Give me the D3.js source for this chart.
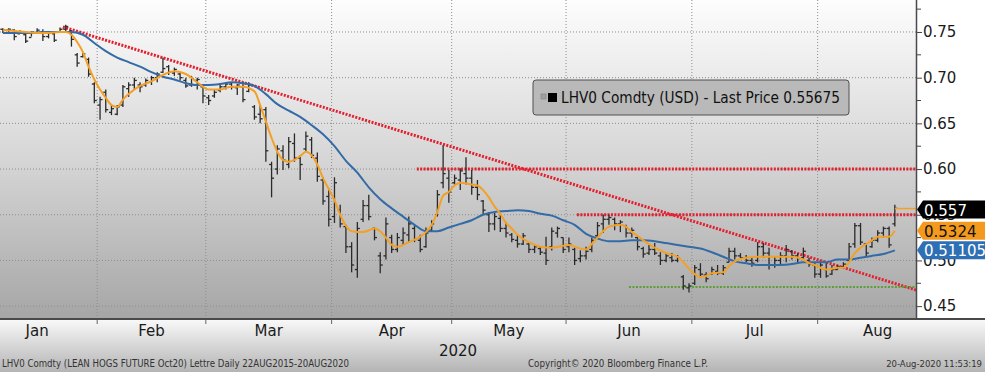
<!DOCTYPE html>
<html>
<head>
<meta charset="utf-8">
<script src="https://cdn.jsdelivr.net/npm/d3@7"></script>
<style>
body { margin: 0; background: #fff; overflow: hidden; }
text { font-family: "DejaVu Sans", sans-serif; }
</style>
</head>
<body>
<div id="chart-area"></div>
<script>
const SVG_WIDTH = 985;
const SVG_HEIGHT = 372;
const PLOT_W = 916;
const PLOT_H = 318;

// months shown on the time axis, with their trading-day counts
const months = ["Jan", "Feb", "Mar", "Apr", "May", "Jun", "Jul", "Aug"];
const monthDays = [21, 19, 22, 21, 20, 22, 22, 21];
const yearLabel = "2020";

// daily bars, first one is the 5th trading day of January
const firstBar = 4;
const hi = [.754,.754,.753,.752,.749,.751,.754,.753,.751,.751,.755,.758,.752,.727,.728,.722,.695,
  .679,.687,.670,.670,.692,.695,.700,.695,.699,.702,.706,.722,.714,.711,.706,.700,.702,.700,.690,
  .681,.687,.693,.695,.695,.693,.695,.695,.670,.670,.668,.608,.626,.626,.635,.639,.615,.641,.635,.618,.591,.579,
  .591,.561,.539,.520,.542,.566,.572,.536,.509,.547,.528,.530,.536,.548,.539,.528,.536,.544,.577,.626,.599,
  .594,.601,.613,.599,.588,.566,.553,.553,.550,.542,.530,.528,.530,.520,.517,.515,.526,.536,.537,.525,
  .525,.514,.511,.515,.525,.542,.550,.550,.547,.544,.539,.536,.526,.515,.517,.519,.509,.508,.508,.506,.484,.475,
  .495,.497,.487,.493,.495,.495,.514,.514,.508,.506,.503,.520,.519,.514,.504,.509,.517,.511,.508,.514,.503,.498,
  .498,.497,.495,.495,.498,.519,.541,.541,.519,.525,.533,.537,.537,.561];
const lo = [.749,.750,.741,.748,.738,.745,.748,.740,.743,.739,.749,.751,.734,.712,.722,.701,.672,
  .654,.662,.659,.659,.668,.679,.687,.684,.690,.692,.695,.705,.703,.702,.697,.689,.690,.687,.672,
  .670,.678,.684,.687,.687,.681,.673,.684,.654,.650,.608,.569,.594,.599,.601,.608,.588,.619,.612,.586,.561,.537,
  .541,.536,.508,.487,.481,.542,.544,.522,.486,.501,.508,.509,.517,.519,.520,.509,.514,.531,.548,.579,.563,
  .583,.577,.583,.572,.566,.550,.531,.533,.531,.525,.520,.514,.517,.508,.508,.506,.495,.511,.525,.508,
  .509,.495,.498,.501,.509,.525,.530,.539,.533,.531,.525,.525,.511,.503,.506,.506,.495,.498,.498,.498,.468,.465,
  .473,.482,.476,.484,.484,.484,.498,.501,.501,.498,.493,.498,.503,.490,.492,.495,.498,.501,.498,.501,.493,.481,
  .481,.481,.484,.490,.492,.501,.514,.517,.504,.514,.520,.525,.514,.537];
const op = [.753,.752,.752,.748,.747,.744,.749,.750,.745,.748,.750,.753,.751,.725,.723,.720,.693,
  .670,.684,.662,.660,.670,.688,.692,.692,.692,.695,.700,.706,.712,.705,.704,.697,.692,.697,.690,
  .678,.680,.686,.690,.693,.689,.690,.685,.668,.660,.665,.605,.600,.620,.605,.628,.612,.622,.632,.612,.588,.570,
  .548,.555,.537,.515,.490,.545,.560,.535,.505,.505,.525,.512,.522,.528,.535,.522,.515,.533,.550,.585,.590,
  .585,.588,.595,.590,.580,.565,.550,.540,.546,.535,.528,.522,.518,.518,.512,.513,.508,.515,.530,.525,
  .515,.512,.502,.505,.512,.527,.540,.545,.545,.540,.538,.530,.525,.513,.508,.512,.505,.500,.503,.500,.482,.470,
  .475,.490,.484,.485,.488,.486,.498,.510,.505,.503,.500,.500,.515,.508,.495,.500,.505,.510,.505,.503,.500,.495,
  .485,.490,.485,.490,.493,.500,.518,.538,.518,.515,.522,.530,.535,.540];
const cl = [.752,.753,.745,.750,.740,.750,.752,.745,.749,.741,.753,.756,.742,.716,.726,.704,.675,
  .676,.665,.666,.668,.690,.692,.697,.690,.697,.700,.704,.710,.706,.709,.700,.691,.699,.698,.680,
  .675,.684,.690,.693,.690,.692,.676,.692,.657,.655,.620,.590,.622,.610,.630,.612,.605,.636,.615,.592,.565,.545,
  .585,.540,.515,.495,.535,.560,.548,.525,.495,.540,.512,.525,.530,.540,.523,.512,.530,.540,.572,.595,.575,
  .590,.598,.590,.580,.572,.555,.540,.548,.535,.530,.523,.518,.527,.512,.515,.509,.500,.532,.535,.512,
  .518,.500,.505,.510,.522,.538,.545,.547,.540,.542,.530,.533,.515,.507,.512,.508,.500,.505,.500,.503,.472,.472,
  .492,.485,.480,.490,.486,.492,.510,.505,.503,.500,.497,.515,.508,.495,.500,.505,.512,.505,.502,.510,.496,.485,
  .495,.483,.490,.493,.496,.515,.538,.520,.508,.522,.530,.535,.517,.557];
const lastPrice = 0.55675;

// moving averages (bar index, value)
const fastIdx = [4,6,8,10,12,14,15,16,17,18,19,20,21,22,23,24,25,26,28,30,32,34,36,38,40,42,44,46,48,49,50,51,52,53,54,55,56,57,58,59,60,61,62,63,64,65,67,69,70,71,72,73,75,77,78,79,80,81,82,83,84,86,87,88,89,90,91,92,93,94,96,98,100,102,103,104,106,107,108,109,110,112,113,114,115,116,117,118,120,122,123,124,125,126,127,128,130,131,132,134,136,138,140,142,144,145,146,147,148,150,151,152,153,154,155,156,157,158,159,160];
const fastVal = [.752,.751,.750,.749,.749,.750,.750,.747,.739,.728,.712,.698,.687,.678,.670,.668,.676,.682,.691,.696,.703,.707,.704,.695,.687,.687,.690,.690,.685,.670,.652,.634,.619,.610,.608,.610,.614,.619,.615,.605,.590,.578,.566,.550,.538,.532,.531,.535,.532,.525,.517,.515,.520,.526,.531,.539,.553,.571,.575,.582,.585,.583,.582,.577,.569,.559,.551,.541,.535,.528,.520,.515,.514,.516,.517,.515,.512,.518,.525,.532,.537,.539,.537,.531,.527,.522,.518,.514,.508,.504,.498,.491,.485,.482,.483,.486,.487,.494,.499,.503,.504,.504,.504,.504,.501,.497,.495,.492,.490,.492,.492,.498,.508,.514,.518,.522,.526,.526,.526,.5324];
const slowIdx = [4,8,12,16,18,20,22,24,26,28,30,32,34,36,38,40,42,44,46,48,50,52,54,56,58,60,62,64,66,68,70,72,74,76,78,80,82,84,86,88,90,92,94,96,98,100,102,104,106,108,110,112,114,116,118,120,122,124,126,128,130,132,134,136,138,140,142,144,146,148,150,152,154,156,158,160];
const slowVal = [.749,.749,.750,.750,.747,.738,.729,.722,.717,.712,.706,.701,.698,.694,.692,.692,.693,.695,.694,.691,.682,.671,.664,.657,.648,.638,.625,.609,.596,.580,.567,.557,.548,.539,.532,.532,.536,.540,.544,.550,.553,.554,.555,.554,.551,.549,.544,.539,.529,.524,.521,.521,.522,.522,.521,.519,.517,.515,.513,.509,.504,.499,.497,.495,.495,.495,.496,.498,.498,.498,.501,.501,.503,.505,.507,.51105];

// drawn studies: downtrend, resistance and support levels
const trendIdx = [14.5, 163.7];
const trendVal = [0.7555, 0.4677];
const resistLevels = [0.60, 0.55];
const resistFrom = [76.4, 104.4];
const supportLevel = 0.471;
const supportFrom = 113.5;

const yTicks = [0.45, 0.50, 0.55, 0.60, 0.65, 0.70, 0.75];
const yMinor = [0.475, 0.525, 0.575, 0.625, 0.675, 0.725, 0.775];

const legendText = "LHV0 Comdty (USD) - Last Price 0.55675";
const footLeft = "LHV0 Comdty (LEAN HOGS FUTURE  Oct20) Lettre  Daily 22AUG2015-20AUG2020";
const footMid = "Copyright\u00A9 2020 Bloomberg Finance L.P.";
const footRight = "20-Aug-2020 11:53:19";

const svg = d3.select("#chart-area").append("svg")
    .attr("width", SVG_WIDTH).attr("height", SVG_HEIGHT);

const defs = svg.append("defs");
const bgGrad = defs.append("linearGradient").attr("id", "bg").attr("x1", 0).attr("y1", 0).attr("x2", 0).attr("y2", 1);
bgGrad.append("stop").attr("offset", "0%").attr("stop-color", "#fdfdfd");
bgGrad.append("stop").attr("offset", "50%").attr("stop-color", "#d6d6d6");
bgGrad.append("stop").attr("offset", "100%").attr("stop-color", "#a6a6a6");
const footGrad = defs.append("linearGradient").attr("id", "foot").attr("x1", 0).attr("y1", 0).attr("x2", 0).attr("y2", 1);
footGrad.append("stop").attr("offset", "0%").attr("stop-color", "#f8f8f8");
footGrad.append("stop").attr("offset", "100%").attr("stop-color", "#b4b4b4");
defs.append("clipPath").attr("id", "plotclip").append("rect")
    .attr("width", PLOT_W).attr("height", PLOT_H);

svg.append("rect").attr("width", PLOT_W).attr("height", PLOT_H).attr("fill", "url(#bg)");
svg.append("rect").attr("y", PLOT_H + 2).attr("width", SVG_WIDTH).attr("height", SVG_HEIGHT - PLOT_H - 2).attr("fill", "url(#foot)");

var x = d3.scaleLinear().domain([0, 163.7]).range([-20.04, PLOT_W]);
var y = d3.scaleLinear().domain([0.437, 0.785]).range([PLOT_H, 0]);

// month starts as bar indices
const monthStart = [];
monthDays.reduce((acc, d) => { monthStart.push(acc); return acc + d; }, 0);

const plot = svg.append("g").attr("clip-path", "url(#plotclip)");

// grid
plot.selectAll(".hgrid").data(yTicks).enter().append("line")
    .attr("x1", 0).attr("x2", PLOT_W)
    .attr("y1", d => y(d)).attr("y2", d => y(d))
    .attr("stroke", "#8d8d8d").attr("stroke-width", 1).attr("stroke-dasharray", "1,2");
plot.selectAll(".vgrid").data(monthStart.slice(1)).enter().append("line")
    .attr("x1", d => x(d - 0.5)).attr("x2", d => x(d - 0.5))
    .attr("y1", 0).attr("y2", PLOT_H)
    .attr("stroke", "#8d8d8d").attr("stroke-width", 1).attr("stroke-dasharray", "1,2");

// drawn lines
const dotted = { stroke: "#e3202f", width: 3, dash: "2,1.4" };
plot.append("line")
    .attr("x1", x(trendIdx[0])).attr("y1", y(trendVal[0]))
    .attr("x2", x(trendIdx[1])).attr("y2", y(trendVal[1]))
    .attr("stroke", dotted.stroke).attr("stroke-width", dotted.width).attr("stroke-dasharray", dotted.dash);
resistLevels.forEach((lvl, i) => {
    plot.append("line")
        .attr("x1", x(resistFrom[i])).attr("x2", PLOT_W)
        .attr("y1", y(lvl)).attr("y2", y(lvl))
        .attr("stroke", dotted.stroke).attr("stroke-width", dotted.width).attr("stroke-dasharray", dotted.dash);
});
plot.append("line")
    .attr("x1", x(supportFrom)).attr("x2", PLOT_W)
    .attr("y1", y(supportLevel)).attr("y2", y(supportLevel))
    .attr("stroke", "#5e9e35").attr("stroke-width", 2).attr("stroke-dasharray", "2,1.5");

// OHLC bars
const bars = hi.map((h, i) => ({ i: i + firstBar, h: h, l: lo[i], o: op[i], c: cl[i] }));
const barG = plot.append("g").attr("stroke", "#2a2a2a").attr("stroke-width", 1.3);
bars.forEach(b => {
    const bx = x(b.i);
    barG.append("line").attr("x1", bx).attr("x2", bx).attr("y1", y(b.h)).attr("y2", y(b.l));
    barG.append("line").attr("x1", bx - 2.5).attr("x2", bx).attr("y1", y(b.o)).attr("y2", y(b.o));
    barG.append("line").attr("x1", bx).attr("x2", bx + 2.5).attr("y1", y(b.c)).attr("y2", y(b.c));
});

// moving averages
const maLine = d3.line().x(d => x(d[0])).y(d => y(d[1])).curve(d3.curveMonotoneX);
plot.append("path").datum(slowIdx.map((d, i) => [d, slowVal[i]]))
    .attr("d", maLine).attr("fill", "none").attr("stroke", "#336ba6").attr("stroke-width", 2);
plot.append("path").datum(fastIdx.map((d, i) => [d, fastVal[i]]))
    .attr("d", maLine).attr("fill", "none").attr("stroke", "#f4a026").attr("stroke-width", 2);

// last price marker
plot.append("line")
    .attr("x1", x(firstBar + hi.length - 1)).attr("x2", PLOT_W)
    .attr("y1", y(lastPrice)).attr("y2", y(lastPrice))
    .attr("stroke", "#f4a026").attr("stroke-width", 1.5);

// frame
svg.append("line").attr("x1", 0).attr("x2", SVG_WIDTH).attr("y1", PLOT_H + 1).attr("y2", PLOT_H + 1)
    .attr("stroke", "#4a4a4a").attr("stroke-width", 2);
svg.append("line").attr("x1", PLOT_W + 0.5).attr("x2", PLOT_W + 0.5).attr("y1", 0).attr("y2", PLOT_H + 1)
    .attr("stroke", "#4a4a4a").attr("stroke-width", 1.5);

// right axis
const yAxisCall = d3.axisRight(y).tickValues(yTicks).tickSize(5).tickPadding(1).tickFormat(d3.format(".2f"));
const yAxisGroup = svg.append("g").attr("transform", `translate(${PLOT_W + 1},0)`).call(yAxisCall);
yAxisGroup.select(".domain").remove();
yAxisGroup.selectAll("line").attr("stroke", "#444");
yAxisGroup.selectAll("text").attr("font-size", "15px").attr("fill", "#1a1a1a")
    .attr("font-family", "DejaVu Sans, sans-serif");
svg.append("g").selectAll("line").data(yMinor).enter().append("line")
    .attr("x1", PLOT_W + 1).attr("x2", PLOT_W + 5)
    .attr("y1", d => y(d)).attr("y2", d => y(d)).attr("stroke", "#444");

// bottom axis: month boundary ticks and centred labels
svg.append("g").selectAll("line").data(monthStart.slice(1)).enter().append("line")
    .attr("x1", d => x(d - 0.5)).attr("x2", d => x(d - 0.5))
    .attr("y1", PLOT_H + 2).attr("y2", PLOT_H + 6).attr("stroke", "#666");
svg.append("g").selectAll("text").data(months).enter().append("text")
    .attr("x", (d, i) => x(monthStart[i] + monthDays[i] / 2 - 0.5))
    .attr("y", 336).attr("text-anchor", "middle").attr("font-size", "15px").attr("fill", "#1a1a1a")
    .text(d => d);
svg.append("text").attr("x", 458).attr("y", 356).attr("text-anchor", "middle")
    .attr("font-size", "15px").attr("fill", "#1a1a1a").text(yearLabel);

// price tags
const tags = [
    { v: lastPrice, label: "0.557", fill: "#000", color: "#fff", dy: 1 },
    { v: fastVal[fastVal.length - 1], label: "0.5324", fill: "#f39a1e", color: "#111", dy: 0 },
    { v: slowVal[slowVal.length - 1], label: "0.51105", fill: "#2f6fb4", color: "#fff", dy: 0 }
];
tags.forEach(t => {
    const cy = y(t.v) + t.dy, h = 18;
    svg.append("path")
        .attr("d", `M${PLOT_W + 1},${cy} L${PLOT_W + 7},${cy - h / 2} L${SVG_WIDTH},${cy - h / 2} L${SVG_WIDTH},${cy + h / 2} L${PLOT_W + 7},${cy + h / 2} Z`)
        .attr("fill", t.fill);
    svg.append("text").attr("x", PLOT_W + 8).attr("y", cy + 6)
        .attr("font-size", "15px").attr("fill", t.color).text(t.label);
});

// legend
const legend = svg.append("g").attr("transform", "translate(533,80)");
legend.append("rect").attr("width", 316).attr("height", 35).attr("rx", 3)
    .attr("fill", "#b9b9b9").attr("stroke", "#505050");
legend.append("rect").attr("x", 8).attr("y", 14).attr("width", 5).attr("height", 5)
    .attr("fill", "#a0a0a0").attr("stroke", "#7a7a7a").attr("stroke-width", 0.5);
legend.append("rect").attr("x", 15).attr("y", 13).attr("width", 9).attr("height", 9).attr("fill", "#000");
legend.append("text").attr("x", 28).attr("y", 23).attr("font-size", "15px").attr("fill", "#111")
    .attr("textLength", 279).attr("lengthAdjust", "spacingAndGlyphs").text(legendText);

// footer
svg.append("text").attr("x", 2).attr("y", 367).attr("font-size", "10px").attr("fill", "#333")
    .attr("textLength", 347).attr("lengthAdjust", "spacingAndGlyphs").text(footLeft);
svg.append("text").attr("x", 528).attr("y", 367).attr("font-size", "10px").attr("fill", "#333")
    .attr("textLength", 180).attr("lengthAdjust", "spacingAndGlyphs").text(footMid);
svg.append("text").attr("x", 982).attr("y", 367).attr("text-anchor", "end")
    .attr("font-size", "8.5px").attr("fill", "#333").text(footRight);
</script>
</body>
</html>
